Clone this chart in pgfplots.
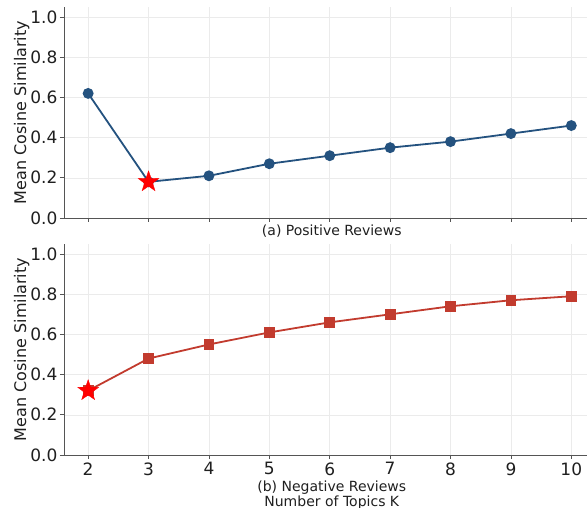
\documentclass[border=0pt]{standalone}
\usepackage{pgfplots}
\pgfplotsset{compat=1.18}
\usepackage{fontspec}
\setmainfont{DejaVu Sans}
\definecolor{cblue}{HTML}{24527F}
\definecolor{cred}{HTML}{C23B2E}
\definecolor{spine}{HTML}{555555}
\pgfdeclareplotmark{fstar}{%
  \pgfpathmoveto{\pgfpointpolar{90}{\pgfplotmarksize}}%
  \pgfpathlineto{\pgfpointpolar{126}{0.40*\pgfplotmarksize}}%
  \pgfpathlineto{\pgfpointpolar{162}{\pgfplotmarksize}}%
  \pgfpathlineto{\pgfpointpolar{198}{0.40*\pgfplotmarksize}}%
  \pgfpathlineto{\pgfpointpolar{234}{\pgfplotmarksize}}%
  \pgfpathlineto{\pgfpointpolar{270}{0.40*\pgfplotmarksize}}%
  \pgfpathlineto{\pgfpointpolar{306}{\pgfplotmarksize}}%
  \pgfpathlineto{\pgfpointpolar{342}{0.40*\pgfplotmarksize}}%
  \pgfpathlineto{\pgfpointpolar{18}{\pgfplotmarksize}}%
  \pgfpathlineto{\pgfpointpolar{54}{0.40*\pgfplotmarksize}}%
  \pgfpathclose\pgfusepathqfillstroke}
\pgfplotstableread{
k pos neg
2 0.62 0.32
3 0.18 0.48
4 0.21 0.55
5 0.27 0.61
6 0.31 0.66
7 0.35 0.70
8 0.38 0.74
9 0.42 0.77
10 0.46 0.79
}\datatab
\pgfplotsset{
  common/.style={
    scale only axis, width=523pt, height=211pt,
    xmin=1.6, xmax=10.26, ymin=0, ymax=1.05,
    xtick={2,3,...,10}, ytick={0,0.2,0.4,0.6,0.8,1.0},
    grid=major, grid style={black!8, line width=0.6pt},
    axis x line*=bottom, axis y line*=left,
    axis line style={spine, line width=0.9pt},
    tick align=outside, major tick length=4pt,
    tick style={spine, line width=0.7pt},
    tick label style={font=\fontsize{17}{17}\selectfont, text=black!88},
    yticklabel style={xshift=1pt},
    /pgf/number format/assume math mode=true,
    yticklabel style={/pgf/number format/.cd, fixed, fixed zerofill, precision=1},
    ylabel={Mean Cosine Similarity},
    ylabel style={font=\fontsize{16}{16}\selectfont, text=black!88},
    ylabel shift=-6pt,
    xlabel style={font=\fontsize{14}{15}\selectfont, text=black!88, align=center},
    clip=false,
  }
}
\begin{document}
\begin{tikzpicture}
\path[use as bounding box] (0pt,0pt) rectangle (587pt,508pt);
\begin{axis}[common, at={(64pt,290pt)}, anchor=south west,
  xticklabels={},
  xlabel={(a) Positive Reviews},
  xlabel style={at={(axis description cs:0.512,0)}, anchor=north, yshift=-3pt}]
\addplot[cblue, line width=1.8pt, mark=*, mark size=4.5pt, mark options={fill=cblue, draw=cblue}] table[x=k, y=pos] {\datatab};
\addplot[only marks, mark=fstar, mark size=11pt, mark options={fill=red, draw=red, line width=0.3pt}] coordinates {(3,0.18)};
\end{axis}
\begin{axis}[common, at={(64pt,53pt)}, anchor=south west,
  xlabel={(b) Negative Reviews\\Number of Topics K},
  xlabel style={at={(axis description cs:0.512,0)}, anchor=north, yshift=-22pt}]
\addplot[cred, line width=1.8pt, mark=square*, mark size=4.5pt, mark options={fill=cred, draw=cred}] table[x=k, y=neg] {\datatab};
\addplot[only marks, mark=fstar, mark size=11pt, mark options={fill=red, draw=red, line width=0.3pt}] coordinates {(2,0.32)};
\end{axis}
\end{tikzpicture}
\end{document}
